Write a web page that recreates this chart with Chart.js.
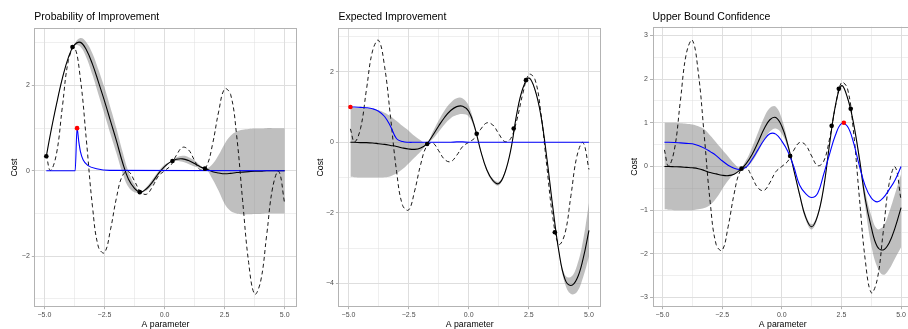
<!DOCTYPE html>
<html>
<head>
<meta charset="utf-8">
<script src="https://cdn.jsdelivr.net/npm/chart.js@4.4.1/dist/chart.umd.min.js"></script>
<style>
html,body{margin:0;padding:0;background:#fff;width:908px;height:329px;overflow:hidden;}
.wrap{position:absolute;top:0;height:329px;}
canvas{display:block;}
</style>
</head>
<body>
<div class="wrap" style="left:0px;width:303px"><canvas id="c1" width="303" height="329" style="width:303px;height:329px"></canvas></div>
<div class="wrap" style="left:300px;width:305px"><canvas id="c2" width="305" height="329" style="width:305px;height:329px"></canvas></div>
<div class="wrap" style="left:605px;width:312px"><canvas id="c3" width="312" height="329" style="width:312px;height:329px"></canvas></div>
<script>
// ---------- data ----------
const xGrid = [-4.92,-4.75,-4.5,-4.25,-4,-3.75,-3.5,-3.25,-3,-2.75,-2.5,-2.25,-2,-1.75,-1.5,-1.25,-1,-0.75,-0.5,-0.25,0,0.25,0.5,0.75,1,1.25,1.5,1.75,2,2.25,2.5,2.75,3,3.25,3.5,3.75,4,4.25,4.5,4.75,5];

// true cost (dashed), same in all panels
const trueCost = [0.38,0.01,0.39,1.51,2.59, 2.89,2.15,0.70,-0.83, -1.79,-1.92,-1.38,-0.63, -0.11,-0.02,-0.24,-0.49, -0.55,-0.37,-0.12,0, 0.12,0.37,0.55,0.49, 0.24,0.02,0.11,0.63, 1.38,1.92,1.79,0.83, -0.70,-2.15,-2.89,-2.59, -1.51,-0.39,-0.01,-0.77];

// Panel 1: Probability of Improvement
const pi_mean  = [0.34,0.86,1.55,2.17,2.66, 2.95,3.01,2.83,2.5, 2.08,1.64,1.17,0.7, 0.2,-0.2,-0.41,-0.5, -0.42,-0.26,-0.06,0.1, 0.21,0.27,0.28,0.24, 0.17,0.09,0.04,-0.02, -0.05,-0.07,-0.06,-0.04, -0.03,-0.02,-0.01,-0.01, 0,0,0,0];
const pi_upper = [0.34,0.87,1.57,2.19,2.67, 2.97,3.11,3.01,2.75, 2.37,1.95,1.48,0.99, 0.45,-0.02,-0.32,-0.49, -0.38,-0.2,-0.01,0.14, 0.22,0.31,0.35,0.32, 0.24,0.12,0.06,0.16, 0.37,0.63,0.82,0.92, 0.96,0.98,0.99,0.99, 1.0,1.0,1.0,1.0];
const pi_lower = [0.34,0.85,1.53,2.15,2.65, 2.93,2.91,2.65,2.25, 1.79,1.33,0.86,0.41, -0.05,-0.38,-0.5,-0.51, -0.46,-0.32,-0.11,0.06, 0.20,0.23,0.21,0.16, 0.10,0.06,0.02,-0.2, -0.47,-0.77,-0.94,-1.0, -1.02,-1.02,-1.01,-1.01, -1.0,-1.0,-1.0,-1.0];
const pi_acqX  = [-4.92,-3.72,-3.64,-3.57,-3.5,-3.39,-3.18,-2.83,-2.28,5];
const pi_acqY  = [0,0,1.0,0.69,0.45,0.26,0.12,0.05,0.01,0];
const pi_obsX  = [-4.92,-3.83,-1.03,0.33,1.68];
const pi_obsY  = [0.34,2.9,-0.5,0.23,0.05];
const pi_nextX = [-3.64];
const pi_nextY = [1.0];

// Panel 2: Expected Improvement
const ei_mean  = [0,0,-0.01,-0.01,-0.02, -0.04,-0.06,-0.09,-0.12, -0.16,-0.19,-0.2,-0.16, -0.05,0.19,0.46,0.71, 0.9,1.01,1.02,0.88, 0.42,-0.25,-0.78,-1.08, -1.17,-0.87,-0.21,0.82, 1.53,1.82,1.5,0.76, -0.46,-1.86,-3.1,-3.88, -4.06,-3.87,-3.32,-2.5];
const ei_upper = [0.98,0.98,0.98,0.97,0.95, 0.91,0.84,0.74,0.6, 0.46,0.33,0.18,0.06, -0.04,0.29,0.62,0.91, 1.12,1.25,1.24,1.03, 0.48,-0.22,-0.74,-1.03, -1.12,-0.84,-0.19,0.84, 1.55,1.85,1.54,0.8, -0.42,-1.83,-3.06,-3.76, -3.82,-3.5,-2.8,-1.72];
const ei_lower = [-0.98,-0.99,-1.0,-1.0,-1.0, -1.0,-0.99,-0.96,-0.88, -0.76,-0.6,-0.43,-0.26, -0.06,0.09,0.3,0.51, 0.68,0.77,0.8,0.73, 0.36,-0.28,-0.82,-1.13, -1.22,-0.9,-0.23,0.8, 1.51,1.79,1.46,0.72, -0.5,-1.89,-3.14,-4.0, -4.3,-4.24,-3.84,-3.24];
const ei_acq   = [1.0,1.0,0.99,0.98,0.95, 0.88,0.73,0.45,0.1, 0.02,0,0,0, 0,0,0,0, 0,0.01,0.01,0, 0,0,0,0, 0,0,0,0, 0,0,0,0, 0,0,0,0, 0,0,0,0];
const ei_obsX  = [-1.73,0.33,1.87,2.38,3.58];
const ei_obsY  = [-0.05,0.24,0.39,1.76,-2.55];
const ei_nextX = [-4.92];
const ei_nextY = [1.0];

// Panel 3: Upper Bound Confidence
const ucb_mean  = [0,0,-0.005,-0.01,-0.02, -0.03,-0.05,-0.09,-0.14, -0.17,-0.2,-0.21,-0.18, -0.08,0.06,0.27,0.55, 0.85,1.07,1.12,0.92, 0.5,-0.07,-0.65,-1.16, -1.38,-1.13,-0.5,0.5, 1.4,1.85,1.58,1.01, 0.19,-0.75,-1.39,-1.83, -1.91,-1.75,-1.4,-0.94];
const ucb_upper = [1.0,1.0,1.0,0.99,0.98, 0.96,0.92,0.85,0.71, 0.55,0.39,0.23,0.07, -0.03,0.14,0.43,0.77, 1.11,1.34,1.37,1.09, 0.57,-0.04,-0.6,-1.1, -1.32,-1.08,-0.47,0.51, 1.41,1.86,1.59,1.03, 0.26,-0.58,-1.12,-1.43, -1.37,-1.05,-0.62,-0.17];
const ucb_lower = [-0.98,-0.99,-1.0,-1.0,-1.0, -1.0,-0.98,-0.95,-0.88, -0.73,-0.52,-0.32,-0.17, -0.08,-0.02,0.11,0.33, 0.59,0.8,0.87,0.75, 0.43,-0.1,-0.7,-1.22, -1.44,-1.18,-0.53,0.49, 1.39,1.84,1.57,0.99, 0.12,-0.93,-1.8,-2.3, -2.48,-2.35,-2.1,-1.85];
const ucb_acq   = [0.555,0.555,0.55,0.54,0.53, 0.52,0.48,0.42,0.34, 0.25,0.13,0.03,-0.04, -0.07,-0.02,0.16,0.38, 0.6,0.75,0.74,0.58, 0.35,0.0,-0.43,-0.62, -0.71,-0.62,-0.19,0.28, 0.72,0.98,0.92,0.56, 0.02,-0.45,-0.72,-0.81, -0.72,-0.53,-0.31,0.0];
const ucb_obsX  = [-1.69,0.35,2.09,2.39,2.89];
const ucb_obsY  = [-0.05,0.24,0.93,1.78,1.32];
const ucb_nextX = [2.6];
const ucb_nextY = [1.0];

// ticks
const xTicks = [-5,-3.75,-2.5,-1.25,0,1.25,2.5,3.75,5];
const xTickLabels = ['\u22125.0','','\u22122.5','','0.0','','2.5','','5.0'];
const y1Ticks = [-3,-2,-1,0,1,2,3];
const y1TickLabels = ['','\u22122','','0','','2',''];
const y2Ticks = [-4,-3,-2,-1,0,1,2,3];
const y2TickLabels = ['\u22124','','\u22122','','0','','2',''];
const y3Ticks = [-3,-2.5,-2,-1.5,-1,-0.5,0,0.5,1,1.5,2,2.5,3];
const y3TickLabels = ['\u22123','','\u22122','','\u22121','','0','','1','','2','','3'];

// ---------- chart building ----------
const FONT = "'Liberation Sans', Arial, Helvetica, sans-serif";
const GRID = '#DEDEDE';
const BORDER = '#B3B3B3';
const TICKTXT = '#4D4D4D';

function pts(xs, ys){ return xs.map((x,i)=>({x:x, y:ys[i]})); }

const borderPlugin = {
  id:'panelBorder',
  afterDraw(chart){
    const a = chart.chartArea, ctx = chart.ctx;
    ctx.save();
    ctx.strokeStyle = BORDER;
    ctx.lineWidth = 1;
    ctx.strokeRect(Math.round(a.left)+0.5, Math.round(a.top)+0.5, Math.round(a.right)-Math.round(a.left)-1, Math.round(a.bottom)-Math.round(a.top)-1);
    ctx.restore();
  }
};

function build(id, p){
  const ctx = document.getElementById(id);
  const datasets = [
    {data: pts(p.nextX, p.nextY), showLine:false, pointRadius:2.3, pointBackgroundColor:'#FF0000', pointBorderWidth:0, borderColor:'#FF0000'},
    {data: pts(p.obsX, p.obsY), showLine:false, pointRadius:2.3, pointBackgroundColor:'#000', pointBorderWidth:0, borderColor:'#000'},
    {data: pts(p.acqX, p.acqY), borderColor:'#0000FF', borderWidth:1.1, pointRadius:0, tension:0.4, cubicInterpolationMode: p.monotone ? 'monotone' : 'default', fill:false},
    {data: pts(xGrid, p.mean), borderColor:'#000', borderWidth:1.1, pointRadius:0, tension:0.4, fill:false},
    {data: pts(xGrid, trueCost), borderColor:'#000', borderWidth:0.9, borderDash:[4,3], pointRadius:0, tension:0.4, fill:false},
    {data: pts(xGrid, p.upper), borderColor:'rgba(0,0,0,0)', borderWidth:0, pointRadius:0, tension:0.4, fill:'+1', backgroundColor:'rgba(128,128,128,0.5)'},
    {data: pts(xGrid, p.lower), borderColor:'rgba(0,0,0,0)', borderWidth:0, pointRadius:0, tension:0.4, fill:false}
  ];
  return new Chart(ctx, {
    type:'line',
    data:{datasets},
    plugins:[borderPlugin],
    options:{
      responsive:false, animation:false, devicePixelRatio:1, events:[],
      layout:{padding:{left:0, right:p.padRight, top:0, bottom:0}},
      plugins:{
        legend:{display:false}, tooltip:{enabled:false},
        title:{display:true, text:p.title, align:'start', fullSize:false, color:'#000',
               font:{family:FONT, size:10.5, weight:'normal', lineHeight:1.2},
               padding:{top:10.7, bottom:p.titleBottom}}
      },
      scales:{
        x:{
          type:'linear', min:-5.42, max:5.5,
          afterBuildTicks:s=>{ s.ticks = xTicks.map(v=>({value:v})); },
          afterFit:s=>{ s.height = 22.3; },
          ticks:{autoSkip:false, maxRotation:0, minRotation:0, padding:2, color:TICKTXT,
                 font:{family:FONT, size:7}, callback:(v,i)=>xTickLabels[i]},
          grid:{color:GRID, lineWidth:c=>xTickLabels[c.index] ? 1 : 0.5, drawTicks:true, tickLength:2.5,
                tickWidth:1, tickColor:c=>xTickLabels[c.index] ? BORDER : 'rgba(0,0,0,0)'},
          border:{display:false},
          title:{display:true, text:'A parameter', color:'#000', font:{family:FONT, size:8.7, lineHeight:1}, padding:{top:0, bottom:0}}
        },
        y:{
          type:'linear', min:p.yMin, max:p.yMax,
          afterBuildTicks:s=>{ s.ticks = p.yTicks.map(v=>({value:v})); },
          afterFit:s=>{ s.width = p.yWidth; },
          ticks:{autoSkip:false, padding:2, color:TICKTXT, font:{family:FONT, size:7}, callback:(v,i)=>p.yLabels[i]},
          grid:{color:GRID, lineWidth:c=>p.yLabels[c.index] ? 1 : 0.5, drawTicks:true, tickLength:2.5,
                tickWidth:1, tickColor:c=>p.yLabels[c.index] ? BORDER : 'rgba(0,0,0,0)'},
          border:{display:false},
          title:{display:true, text:'Cost', color:'#000', font:{family:FONT, size:8.7, lineHeight:1}, padding:{top:p.costPad, bottom:0}}
        }
      }
    }
  });
}

build('c1', {title:'Probability of Improvement', mean:pi_mean, upper:pi_upper, lower:pi_lower,
  acqX:pi_acqX, acqY:pi_acqY, monotone:true, obsX:pi_obsX, obsY:pi_obsY, nextX:pi_nextX, nextY:pi_nextY,
  yMin:-3.185, yMax:3.34, yTicks:y1Ticks, yLabels:y1TickLabels, yWidth:34.3, padRight:6.3, titleBottom:5.0, costPad:10});

build('c2', {title:'Expected Improvement', mean:ei_mean, upper:ei_upper, lower:ei_lower,
  acqX:xGrid, acqY:ei_acq, monotone:false, obsX:ei_obsX, obsY:ei_obsY, nextX:ei_nextX, nextY:ei_nextY,
  yMin:-4.66, yMax:3.23, yTicks:y2Ticks, yLabels:y2TickLabels, yWidth:38.4, padRight:3.2, titleBottom:5.0, costPad:16.2});

build('c3', {title:'Upper Bound Confidence', mean:ucb_mean, upper:ucb_upper, lower:ucb_lower,
  acqX:xGrid, acqY:ucb_acq, monotone:false, obsX:ucb_obsX, obsY:ucb_obsY, nextX:ucb_nextX, nextY:ucb_nextY,
  yMin:-3.21, yMax:3.2, yTicks:y3Ticks, yLabels:y3TickLabels, yWidth:47.5, padRight:3.3, titleBottom:3.4, costPad:25.6});
</script>
</body>
</html>
